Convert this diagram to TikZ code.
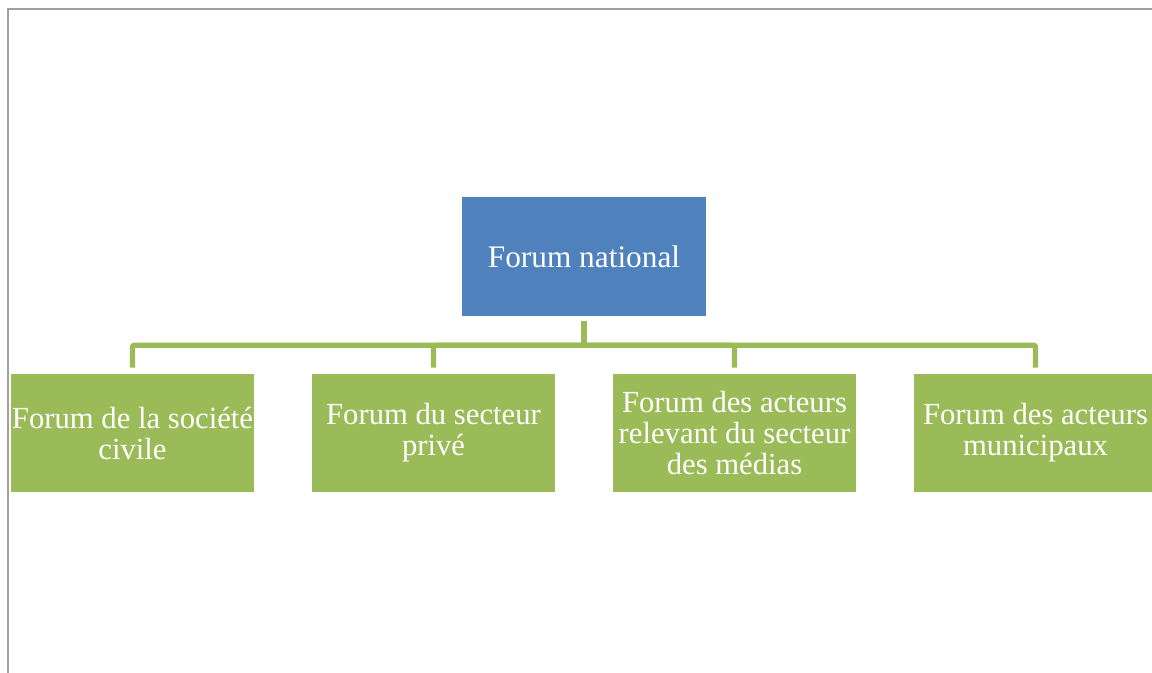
\documentclass[tikz,border=0pt]{standalone}
\usepackage{fontspec}
\setmainfont{Liberation Serif}
\usepackage{tikz}

\definecolor{natblue}{HTML}{4F81BD}
\definecolor{forgreen}{HTML}{9BBB59}
\definecolor{pagegray}{HTML}{A0A0A0}

\begin{document}
\begin{tikzpicture}[x=0.75pt,y=0.75pt,yscale=-1,xscale=1,
    topbox/.style={fill=natblue,draw=none,minimum width=183pt,minimum height=89.25pt,inner sep=0pt,
      text=white,font=\fontsize{23.5}{23.25}\selectfont,align=center},
    forumbox/.style={fill=forgreen,draw=none,minimum width=182.25pt,minimum height=88.5pt,inner sep=0pt,
      text=white,font=\fontsize{23}{23.25}\selectfont,align=center},
    link/.style={draw=forgreen,line width=4pt,rounded corners=1.5pt,shorten <=3.75pt,shorten >=4.5pt}]
        \useasboundingbox (0,0) rectangle (1152,673);

        %Page edge
        \draw [pagegray,line width=1.5pt] (8,673) -- (8,9) -- (1152,9) ;

        % Top node
        \node [topbox] (nat) at (584,256.5) {Forum national};
        % Forum nodes
        \node [forumbox] (civ) at (132.5,433) {Forum de la société\\civile};
        \node [forumbox] (priv) at (433.5,433) {Forum du secteur\\privé};
        \node [forumbox] (med) at (734.5,433) {Forum des acteurs\\relevant du secteur\\des médias};
        \node [forumbox] (mun) at (1035.5,433) {Forum des acteurs\\municipaux};

        % Connectors
        \foreach \f in {civ,priv,med,mun}
          \draw [link] (nat.south) -- ++(0,29) -| (\f.north) ;

\end{tikzpicture}
\end{document}
